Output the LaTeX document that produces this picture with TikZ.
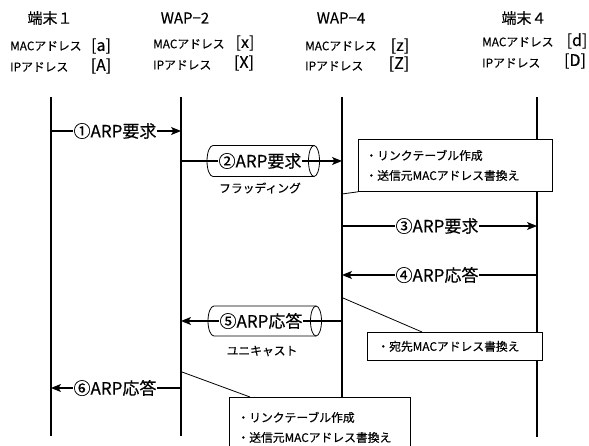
\documentclass[tikz,border=0pt]{standalone}
\usepackage{fontspec}
\setmainfont{Noto Sans CJK JP}[FakeBold=0.3]
\usetikzlibrary{arrows.meta}
\begin{document}
\begin{tikzpicture}[x=1pt,y=-1pt,
  life/.style={line width=1.3pt},
  msg/.style={line width=1.1pt,-{Stealth[length=10pt,width=8pt,inset=2.5pt]}},
  lbl/.style={fill=white,inner sep=1pt,font=\fontsize{17}{17}\selectfont},
  head/.style={inner sep=0pt,font=\fontsize{15}{16}\selectfont},
  small/.style={inner sep=0pt,font=\fontsize{11.8}{12}\selectfont},
  brk/.style={inner sep=0pt,font=\fontsize{16}{16}\selectfont},
  note/.style={draw,line width=0.8pt,fill=white,align=left,anchor=north west,
    inner ysep=0pt,font=\fontsize{11.8}{20}\selectfont},
  tube/.style={line width=0.8pt},
  ptr/.style={line width=0.8pt}]
\clip (0,0) rectangle (589,446);
\fill[white] (0,0) rectangle (589,446);
% headers
\node[head] (h1) at (50,18) {端末１};
\node[head] (h2) at (185,18) {WAP−2};
\node[head] (h3) at (341,18) {WAP−4};
\node[head] (h4) at (524,18) {端末４};
% address labels
\node[small,anchor=west] (m1) at (10,46) {MACアドレス};
\node[small,anchor=west] (i1) at (10,67) {IPアドレス};
\node[brk] (b1) at (101,46) {[a]};
\node[brk] (c1) at (101,66) {[A]};
\node[small,anchor=west] (m2) at (153,44) {MACアドレス};
\node[small,anchor=west] (i2) at (153,65) {IPアドレス};
\node[brk] (b2) at (245,43) {[x]};
\node[brk] (c2) at (244,63) {[X]};
\node[small,anchor=west] (m3) at (305,46) {MACアドレス};
\node[small,anchor=west] (i3) at (305,66) {IPアドレス};
\node[brk] (b3) at (400,46) {[z]};
\node[brk] (c3) at (399,64) {[Z]};
\node[small,anchor=west] (m4) at (482,42) {MACアドレス};
\node[small,anchor=west] (i4) at (482,63) {IPアドレス};
\node[brk] (b4) at (577,41) {[d]};
\node[brk] (c4) at (575,61) {[D]};
% lifelines
\coordinate (t1a) at (51,97);  \coordinate (t1b) at (51,436);
\coordinate (w2a) at (181,97); \coordinate (w2b) at (181,436);
\coordinate (w4a) at (342,97); \coordinate (w4b) at (342,400);
\coordinate (t4a) at (537,97); \coordinate (t4b) at (537,437);
\draw[life] (t1a) -- (t1b);
\draw[life] (w2a) -- (w2b);
\draw[life] (w4a) -- (w4b);
\draw[life] (t4a) -- (t4b);
% message end points
\coordinate (s1) at (51,131);  \coordinate (e1) at (181,131);
\coordinate (s2) at (181,161); \coordinate (e2) at (342,161);
\coordinate (s3) at (342,226); \coordinate (e3) at (537,226);
\coordinate (s4) at (537,275); \coordinate (e4) at (342,275);
\coordinate (s5) at (342,321); \coordinate (e5) at (181,321);
\coordinate (s6) at (181,388); \coordinate (e6) at (51,388);
% messages
\draw[msg] (s1) -- (e1);
\node[lbl] (l1) at (115,131) {①ARP要求};
\draw[msg] (s2) -- (e2);
\draw[tube] (314,145.5) -- (213,145.5) arc[start angle=270,end angle=90,x radius=6,y radius=15.5] -- (314,176.5);
\draw[tube] (314,161) ellipse[x radius=5.5,y radius=15.5];
\node[lbl] (l2) at (260,161) {②ARP要求};
\node[small] (f2) at (260,188) {フラッディング};
\draw[msg] (s3) -- (e3);
\node[lbl] (l3) at (437,226) {③ARP要求};
\draw[msg] (s4) -- (e4);
\node[lbl] (l4) at (437,275) {④ARP応答};
\draw[msg] (s5) -- (e5);
\draw[tube] (316,306) -- (214,306) arc[start angle=270,end angle=90,x radius=6,y radius=15] -- (316,336);
\draw[tube] (316,321) ellipse[x radius=5.5,y radius=15];
\node[lbl] (l5) at (261,321) {⑤ARP応答};
\node[small] (f5) at (262,351) {ユニキャスト};
\draw[msg] (s6) -- (e6);
\node[lbl] (l6) at (115,388) {⑥ARP応答};
% notes
\node[note,inner xsep=7pt,text width=180pt,minimum height=52pt] (n1) at (358,139)
  {・リンクテーブル作成\\・送信元MACアドレス書換え};
\coordinate (p1) at (342,194);
\draw[ptr] (p1) -- (n1.south west);
\node[note,inner xsep=10pt,text width=155pt,minimum height=28pt] (n2) at (367,332)
  {・宛先MACアドレス書換え};
\coordinate (p2) at (343,298); \coordinate (q2) at (422,332);
\draw[ptr] (p2) -- (q2);
\node[note,inner xsep=8pt,text width=165pt,minimum height=60pt] (n3) at (229,397)
  {・リンクテーブル作成\\・送信元MACアドレス書換え};
\coordinate (p3) at (182,372); \coordinate (q3) at (250,397);
\draw[ptr] (p3) -- (q3);
\end{tikzpicture}
\end{document}
